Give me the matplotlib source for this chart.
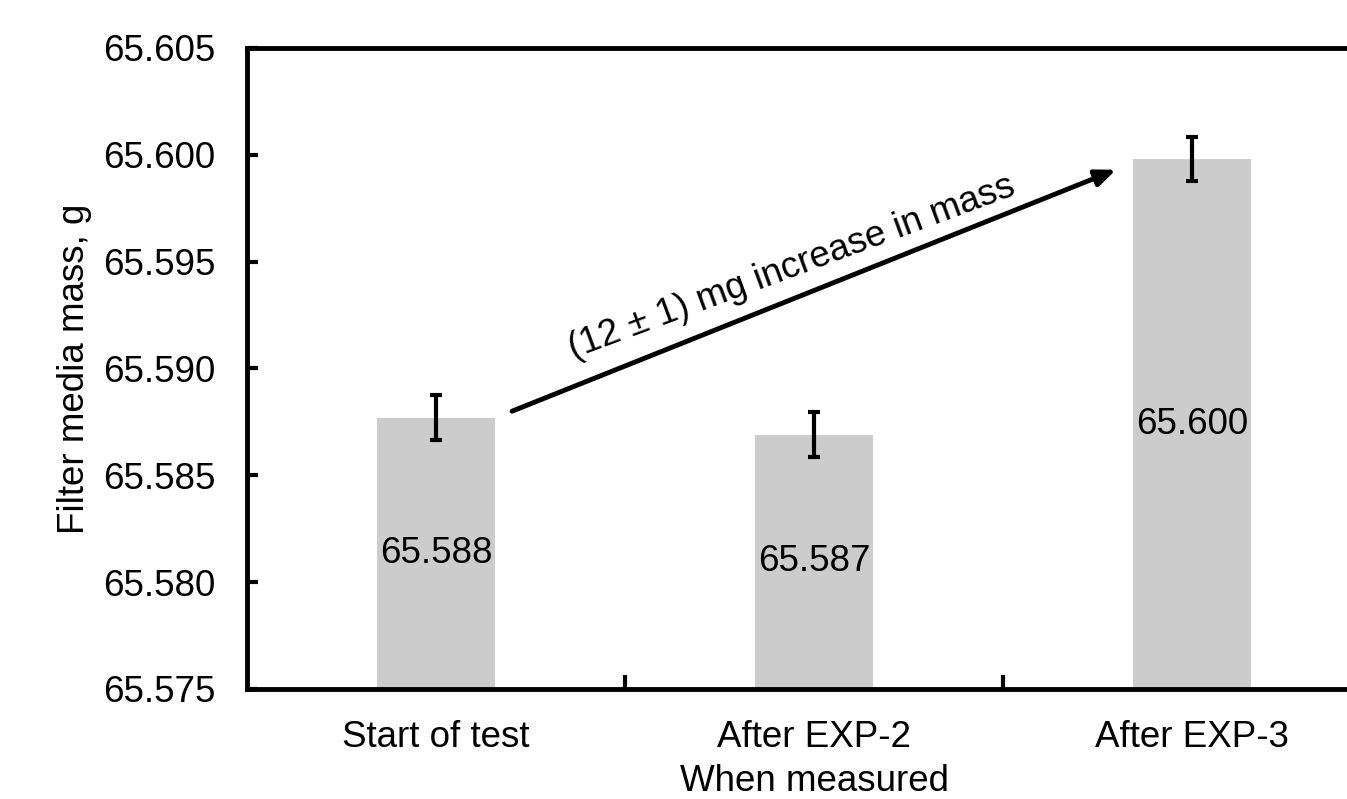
import numpy as np
import matplotlib.pyplot as plt

plt.rcParams['font.family'] = ['Liberation Sans', 'DejaVu Sans']

# bar data
categories = ["Start of test", "After EXP-2", "After EXP-3"]
masses = [65.5877, 65.5869, 65.5998]
errors = [0.00105, 0.00105, 0.00105]
value_labels = ["65.588", "65.587", "65.600"]

FS = 26.5

fig = plt.figure(figsize=(13.47, 7.99), dpi=100)
# axes run past the right edge of the figure, as in the original
ax = fig.add_axes([0.1834, 0.1377, 0.8419, 0.8023])

x = np.arange(len(categories))
ax.bar(x, masses, width=0.31, color="#cccccc", zorder=1)
ax.errorbar(x, masses, yerr=errors, fmt="none", ecolor="black",
            elinewidth=3, capsize=4.5, capthick=3, zorder=3)

# value labels centered in each bar
for xi, m, lab in zip(x, masses, value_labels):
    ax.text(xi, (m + 65.575) / 2, lab, ha="center", va="center", fontsize=FS)

ax.annotate("", xy=(1.799, 65.5993), xytext=(0.201, 65.5880),
            arrowprops=dict(arrowstyle="-|>,head_length=1.2,head_width=0.5",
                            color="black", lw=3.5, shrinkA=0, shrinkB=0))
ax.text(0.950, 65.5943, "(12 ± 1) mg increase in mass", rotation=20.3,
        rotation_mode="anchor", ha="center", va="baseline", fontsize=FS)

ax.set_xlim(-0.5, 2.5)
ax.set_ylim(65.575, 65.605)
yt = np.arange(65.575, 65.6051, 0.005)
ax.set_yticks(yt)
ax.set_yticklabels([f"{v:.3f}" for v in yt])
ax.set_xticks(x)
ax.set_xticklabels(categories)
ax.set_xticks([0.5, 1.5], minor=True)
ax.tick_params(axis="x", which="major", length=0, labelsize=FS, pad=22)
ax.tick_params(axis="x", which="minor", direction="in", length=10, width=3)
ax.tick_params(axis="y", direction="in", length=8, width=3, labelsize=FS, pad=23)

for s in ax.spines.values():
    s.set_linewidth(3.5)

ax.set_xlabel("When measured", fontsize=FS, labelpad=7)
ax.set_ylabel("Filter media mass, g", fontsize=FS, labelpad=8)

fig.savefig("out.png", dpi=100)
